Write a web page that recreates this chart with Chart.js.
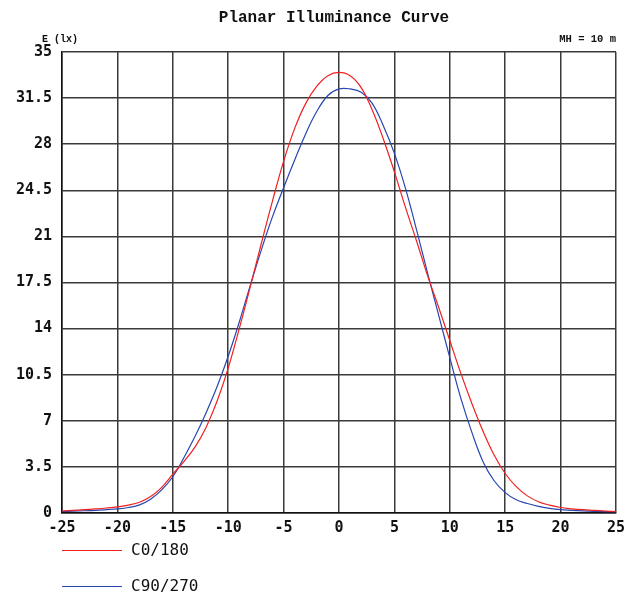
<!DOCTYPE html>
<html>
<head>
<meta charset="utf-8">
<script src="https://cdn.jsdelivr.net/npm/chart.js@4"></script>
<style>
  html, body { margin: 0; padding: 0; background: #fff; }
  #wrap { width: 636px; height: 592px; }
</style>
</head>
<body>
<div id="wrap"><canvas id="myChart" width="636" height="592"></canvas></div>
<script>
// distance (m) along the axis
const xs = [-25, -24, -23, -22, -21, -20, -19, -18, -17, -16, -15, -14, -13, -12, -11, -10,
  -9, -8, -7, -6, -5, -4, -3, -2, -1, 0, 1, 2, 3, 4, 5, 6, 7, 8, 9,
  10, 11, 12, 13, 14, 15, 16, 17, 18, 19, 20, 21, 22, 23, 24, 25];

// E (lx) for C0/180
const c0 = [0.15, 0.2, 0.25, 0.31, 0.38, 0.47, 0.6, 0.82, 1.25, 1.95, 2.95, 3.9, 5.0, 6.5, 8.5, 11.0,
  14.0, 17.2, 20.5, 23.7, 26.7, 29.2, 31.1, 32.4, 33.2, 33.45, 33.2, 32.3, 30.6, 28.4, 25.9, 23.2, 20.65, 18.0, 15.6,
  13.1, 10.6, 8.3, 6.2, 4.4, 3.0, 2.0, 1.3, 0.85, 0.6, 0.42, 0.32, 0.25, 0.2, 0.15, 0.1];

// E (lx) for C90/270
const c90 = [0.12, 0.14, 0.17, 0.2, 0.25, 0.31, 0.42, 0.62, 1.05, 1.75, 2.75, 4.2, 5.8, 7.6, 9.6, 11.9,
  14.5, 17.3, 20.0, 22.5, 24.7, 26.8, 28.8, 30.5, 31.7, 32.2, 32.2, 31.95, 31.1, 29.4, 27.3, 24.65, 21.5, 18.2, 15.0,
  11.8, 8.7, 6.1, 3.9, 2.45, 1.55, 1.0, 0.72, 0.5, 0.35, 0.25, 0.2, 0.16, 0.13, 0.11, 0.1];

const seriesNames = ['C0/180', 'C90/270'];
const seriesColors = ['#f02020', '#2846b0'];

const yTicks = [0, 3.5, 7, 10.5, 14, 17.5, 21, 24.5, 28, 31.5, 35];
const xTicks = [-25, -20, -15, -10, -5, 0, 5, 10, 15, 20, 25];

const gridColor = '#3a3a3a';

function toPoints(vals) {
  return xs.map((x, i) => ({ x: x, y: vals[i] }));
}

// titles, corner notes and the legend under the plot
const extras = {
  id: 'extras',
  afterDraw(chart) {
    const { ctx, chartArea: { left } } = chart;
    ctx.save();
    ctx.fillStyle = '#111';
    ctx.textBaseline = 'middle';

    ctx.font = 'bold 16px "Liberation Mono"';
    ctx.textAlign = 'center';
    ctx.fillText('Planar Illuminance Curve', 334, 18);

    ctx.font = 'bold 10px "Liberation Mono"';
    ctx.textAlign = 'left';
    ctx.fillText('E (lx)', 42, 39);

    ctx.font = 'bold 10.5px "Liberation Mono"';
    ctx.textAlign = 'right';
    ctx.fillText('MH = 10 m', 616, 39);

    // legend
    const rows = [550, 586];
    chart.data.datasets.forEach((ds, i) => {
      const y = rows[i];
      ctx.strokeStyle = ds.borderColor;
      ctx.lineWidth = 1;
      ctx.beginPath();
      ctx.moveTo(left, y + 0.5);
      ctx.lineTo(left + 60, y + 0.5);
      ctx.stroke();
      ctx.fillStyle = '#111';
      ctx.font = '16px "DejaVu Sans Mono"';
      ctx.textAlign = 'left';
      ctx.fillText(ds.label, left + 69, y + 1);
    });
    ctx.restore();
  }
};

const data = {
  datasets: seriesNames.map((name, i) => ({
    label: name,
    data: toPoints(i === 0 ? c0 : c90),
    borderColor: seriesColors[i],
    borderWidth: 1.2,
    pointRadius: 0,
    tension: 0.4,
    fill: false
  }))
};

const config = {
  type: 'line',
  data,
  options: {
    responsive: false,
    animation: false,
    layout: { padding: { top: 52, right: 20, left: 0, bottom: 0 } },
    plugins: {
      legend: { display: false },
      title: { display: false },
      tooltip: { enabled: false }
    },
    scales: {
      x: {
        type: 'linear',
        min: -25,
        max: 25,
        afterBuildTicks(scale) {
          scale.ticks = xTicks.map(v => ({ value: v }));
        },
        afterFit(scale) { scale.height = 79; },
        grid: { color: gridColor, lineWidth: 1.5, drawTicks: false },
        border: { color: '#111', width: 1.5 },
        ticks: {
          color: '#111',
          font: { family: 'DejaVu Sans Mono', size: 15, weight: 'bold' },
          padding: 6,
          maxRotation: 0,
          autoSkip: false
        }
      },
      y: {
        type: 'linear',
        min: 0,
        max: 35,
        afterBuildTicks(scale) {
          scale.ticks = yTicks.map(v => ({ value: v }));
        },
        afterFit(scale) { scale.width = 62; },
        grid: { color: gridColor, lineWidth: 1.5, drawTicks: false },
        border: { color: '#111', width: 1.5 },
        ticks: {
          color: '#111',
          font: { family: 'DejaVu Sans Mono', size: 15, weight: 'bold' },
          padding: 10,
          autoSkip: false,
          callback: v => String(Number(v.toFixed(1)))
        }
      }
    }
  },
  plugins: [extras]
};

const myChart = new Chart(document.getElementById('myChart'), config);
</script>
</body>
</html>
